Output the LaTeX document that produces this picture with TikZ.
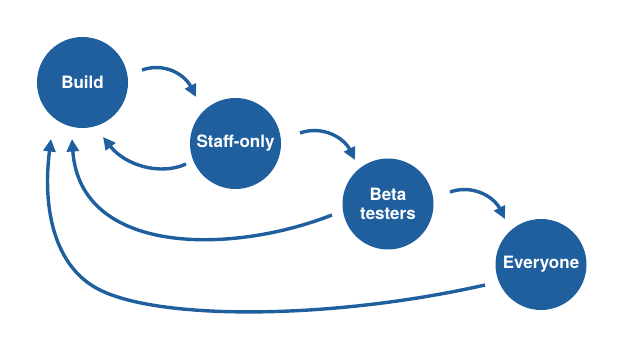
\documentclass[tikz,border=0pt]{standalone}
\usepackage{fontspec}
\setsansfont{TeX Gyre Heros}
\usetikzlibrary{arrows.meta,calc}
\definecolor{stageblue}{RGB}{31,95,158}
\begin{document}
\begin{tikzpicture}[x=1pt,y=-1pt,
  stage/.style={circle,fill=stageblue,minimum size=91pt,inner sep=0pt,
    text=white,font=\sffamily\bfseries\fontsize{17}{19.5}\selectfont,align=center},
  flow/.style={draw=stageblue,line width=3.4pt,-{Triangle[length=12.5pt,width=12pt]}}]
\useasboundingbox (0,0) rectangle (624,347);
\node[stage] (build) at (82.5,82.5) {Build};
\node[stage] (staff) at (235.5,143.5) {Staff-only};
\node[stage] (beta) at (388,204) {Beta\\testers};
\node[stage] (every) at (541,264.5) {Everyone};
% connector end points relative to the stages
\coordinate (a1) at ($(build)+(59.5,-12.5)$);
\coordinate (a2) at ($(staff)+(-39.5,-46.5)$);
\coordinate (b1) at ($(staff)+(-49.5,20.5)$);
\coordinate (b2) at ($(build)+(20.5,54.5)$);
\coordinate (c1) at ($(staff)+(64.5,-10.5)$);
\coordinate (c2) at ($(beta)+(-33,-44)$);
\coordinate (d1) at ($(beta)+(62,-12)$);
\coordinate (d2) at ($(every)+(-36,-45.5)$);
\coordinate (e1) at ($(beta)+(-56,11)$);
\coordinate (e2) at ($(build)+(-10.5,56.5)$);
\coordinate (f1) at ($(every)+(-56,20.5)$);
\coordinate (fm) at (100,290);
\coordinate (f2) at ($(build)+(-31.5,56.5)$);
\draw[flow] (a1) .. controls (165,62) and (185,75) .. (a2);
\draw[flow] (b1) .. controls (160,176) and (125,165) .. (b2);
\draw[flow] (c1) .. controls (323,125) and (344,138) .. (c2);
\draw[flow] (d1) .. controls (473,184) and (494,197) .. (d2);
\draw[flow] (e1) .. controls (230,255) and (80,255) .. (e2);
\draw[flow] (f1) .. controls (330,320) and (160,320) .. (fm)
  .. controls (55,268) and (42,210) .. (f2);
\end{tikzpicture}
\end{document}
